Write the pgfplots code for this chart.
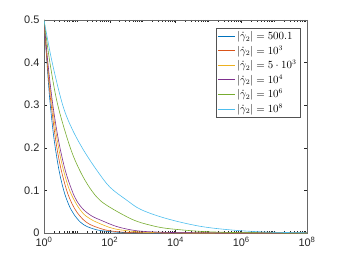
\documentclass[border=0pt]{standalone}
\usepackage{pgfplots}
\pgfplotsset{compat=1.18}
\usepackage{fontspec}
\newfontfamily\helv{Liberation Sans}
\definecolor{c1}{rgb}{0,0.447,0.741}
\definecolor{c2}{rgb}{0.85,0.325,0.098}
\definecolor{c3}{rgb}{0.929,0.694,0.125}
\definecolor{c4}{rgb}{0.494,0.184,0.556}
\definecolor{c5}{rgb}{0.466,0.674,0.188}
\definecolor{c6}{rgb}{0.301,0.745,0.933}
\definecolor{axc}{rgb}{0.15,0.15,0.15}
\begin{document}
\begin{tikzpicture}
\begin{axis}[
  at={(0,0)}, anchor=south west,
  scale only axis, width=263bp, height=213bp,
  xmode=log, xmin=1, xmax=1e8, ymin=0, ymax=0.5,
  xtick={1,1e2,1e4,1e6,1e8},
  xticklabels={10\textsuperscript{0},10\textsuperscript{2},10\textsuperscript{4},10\textsuperscript{6},10\textsuperscript{8}},
  minor xtick={2,3,4,5,6,7,8,9,10,20,30,40,50,60,70,80,90,200,300,400,500,600,700,800,900,1000,2000,3000,4000,5000,6000,7000,8000,9000,2e4,3e4,4e4,5e4,6e4,7e4,8e4,9e4,1e5,2e5,3e5,4e5,5e5,6e5,7e5,8e5,9e5,2e6,3e6,4e6,5e6,6e6,7e6,8e6,9e6,1e7,2e7,3e7,4e7,5e7,6e7,7e7,8e7,9e7},
  ytick={0,0.1,0.2,0.3,0.4,0.5},
  yticklabels={0,0.1,0.2,0.3,0.4,0.5},
  tick align=inside,
  major tick length=3bp, minor tick length=1.6bp,
  every tick/.style={axc, line width=0.4pt},
  axis line style={axc!70, line width=0.5pt},
  tick label style={font=\helv\fontsize{11}{13}\selectfont, text=axc},
  xticklabel style={yshift=-1bp},
  yticklabel style={xshift=-1bp},
  legend cell align=left,
  legend image code/.code={\draw[#1] (0bp,0bp) -- (17bp,0bp);},
  legend style={at={(1,1)}, anchor=north east, xshift=-7bp, yshift=-8bp,
    draw=axc!80, line width=0.4pt, fill=white,
    font=\fontsize{10.5}{12.5}\selectfont, inner sep=1.3bp,
    row sep=0.6bp},
  every axis plot/.append style={line width=0.6pt, smooth, tension=0.55},
]
\addplot[c1] coordinates {(1,0.5) (1.2303,0.4) (1.5136,0.31) (1.9953,0.224) (2.8184,0.15) (3.9811,0.1) (5.6234,0.067) (7.9433,0.045) (12.589,0.026) (19.953,0.0155) (39.811,0.0075) (70.795,0.0045) (199.53,0.0015) (1000,0.0003) (1e4,0) (1e8,0)};
\addlegendentry{$|\dot\gamma_2| = 500.1$}
\addplot[c2] coordinates {(1,0.5) (1.2589,0.396) (1.5849,0.314) (2.2387,0.221) (3.1623,0.156) (4.8978,0.1) (7.0795,0.069) (10,0.049) (15.849,0.031) (25.119,0.020) (50.119,0.011) (100,0.0052) (316.23,0.0015) (1584.9,0.0003) (31623,0) (1e8,0)};
\addlegendentry{$|\dot\gamma_2| = 10^3$}
\addplot[c3] coordinates {(1,0.5) (1.2589,0.407) (1.5849,0.331) (2.2387,0.243) (3.1623,0.178) (4.4668,0.131) (6.3096,0.096) (10,0.066) (15.849,0.045) (22.387,0.036) (31.623,0.029) (50.119,0.022) (100,0.013) (204.17,0.0075) (1000,0.002) (1e4,0.0003) (1e5,0) (1e8,0)};
\addlegendentry{$|\dot\gamma_2| = 5\cdot 10^3$}
\addplot[c4] coordinates {(1,0.5) (1.3183,0.398) (1.8621,0.3) (2.8184,0.214) (4.4668,0.146) (7.0795,0.1) (10,0.075) (15.849,0.055) (28.184,0.04) (50.119,0.031) (158.49,0.0155) (512.86,0.0065) (1584.9,0.003) (1e4,0.001) (1e5,0.0002) (1e6,0) (1e8,0)};
\addlegendentry{$|\dot\gamma_2| = 10^4$}
\addplot[c5] coordinates {(1,0.5) (1.5136,0.4) (2.6303,0.3) (6.3096,0.2) (12.589,0.145) (25.119,0.105) (50.119,0.077) (125.89,0.056) (512.86,0.031) (1584.9,0.019) (5248.1,0.011) (53703,0.004) (549541,0.0012) (1e7,0.0002) (1e8,0)};
\addlegendentry{$|\dot\gamma_2| = 10^6$}
\addplot[c6] coordinates {(1,0.5) (1.7783,0.4) (3.7154,0.3) (7.0795,0.245) (15.849,0.195) (39.811,0.148) (100,0.108) (316.23,0.078) (891.25,0.055) (5248.1,0.034) (53703,0.016) (549541,0.0068) (5623413,0.0023) (1e8,0.0004)};
\addlegendentry{$|\dot\gamma_2| = 10^8$}
\end{axis}
\pgfresetboundingbox
\path[use as bounding box] (-44bp,-30bp) rectangle (295bp,233bp);
\end{tikzpicture}
\end{document}
